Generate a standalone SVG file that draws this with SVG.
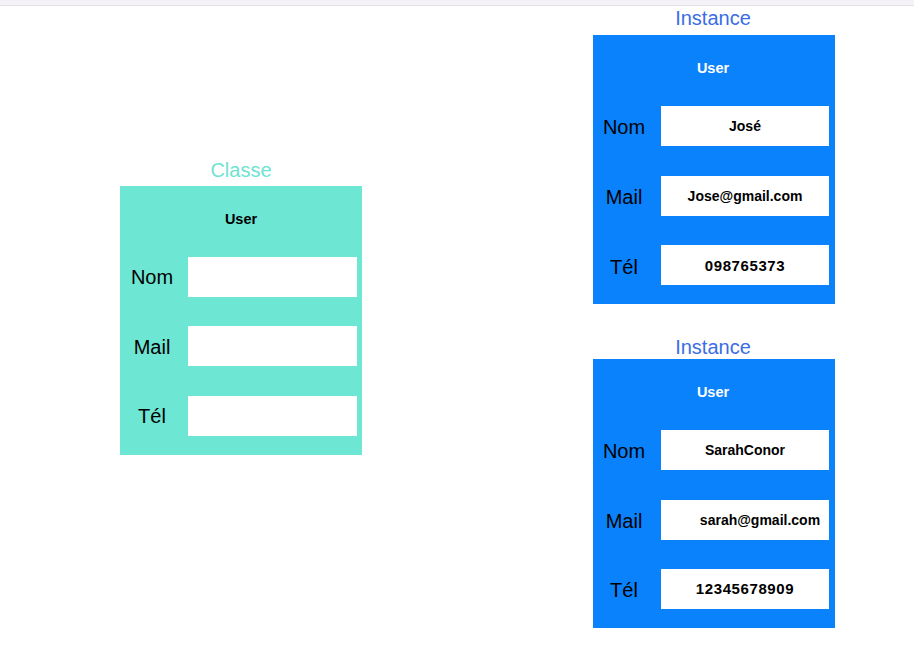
<svg xmlns="http://www.w3.org/2000/svg" width="914" height="650" viewBox="0 0 914 650">
<style>
text{font-family:"Liberation Sans",Arial,sans-serif;text-anchor:middle}
.title{font-size:20px}
.hdr{font-size:14.5px;font-weight:bold}
.lbl{font-size:20px;fill:#000}
.val{font-size:14px;font-weight:bold;fill:#000}
.num{font-size:15px;letter-spacing:0.6px}
.fld{fill:#fff}
.cls{fill:#6de6d3}
.inst{fill:#0a82fb}
</style>
<rect x="0" y="0" width="914" height="650" fill="#fff"/>
<rect x="0" y="0" width="914" height="5" fill="#f4f2f6"/>
<line x1="0" y1="5.5" x2="914" y2="5.5" stroke="#e4e2e6" stroke-width="1"/>
<g id="classe">
<text class="title" x="241" y="177" fill="#6fe3d1">Classe</text>
<rect class="cls" x="120" y="186" width="242" height="269"/>
<text class="hdr" x="241" y="224" fill="#000">User</text>
<text class="lbl" x="152" y="284">Nom</text>
<rect class="fld" x="188" y="257" width="169" height="40"/>
<text class="lbl" x="152" y="354">Mail</text>
<rect class="fld" x="188" y="326" width="169" height="40"/>
<text class="lbl" x="152" y="423">Tél</text>
<rect class="fld" x="188" y="396" width="169" height="40"/>
</g>
<g id="instance1">
<text class="title" x="713" y="25" fill="#3a6de6">Instance</text>
<rect class="inst" x="593" y="35" width="242" height="269"/>
<text class="hdr" x="713" y="73" fill="#fff">User</text>
<text class="lbl" x="624" y="134">Nom</text>
<rect class="fld" x="661" y="106" width="168" height="40"/>
<text class="val" x="745" y="131">José</text>
<text class="lbl" x="624" y="204">Mail</text>
<rect class="fld" x="661" y="176" width="168" height="40"/>
<text class="val" x="745" y="201">Jose@gmail.com</text>
<text class="lbl" x="624" y="274">Tél</text>
<rect class="fld" x="661" y="245" width="168" height="40"/>
<text class="val num" x="745" y="271">098765373</text>
</g>
<g id="instance2">
<text class="title" x="713" y="354" fill="#3a6de6">Instance</text>
<rect class="inst" x="593" y="359" width="242" height="269"/>
<text class="hdr" x="713" y="397" fill="#fff">User</text>
<text class="lbl" x="624" y="458">Nom</text>
<rect class="fld" x="661" y="430" width="168" height="40"/>
<text class="val" x="745" y="455">SarahConor</text>
<text class="lbl" x="624" y="528">Mail</text>
<rect class="fld" x="661" y="500" width="168" height="40"/>
<text class="val" x="760" y="525">sarah@gmail.com</text>
<text class="lbl" x="624" y="597">Tél</text>
<rect class="fld" x="661" y="569" width="168" height="40"/>
<text class="val num" x="745" y="594">12345678909</text>
</g>
<g id="connectors"></g>
</svg>
